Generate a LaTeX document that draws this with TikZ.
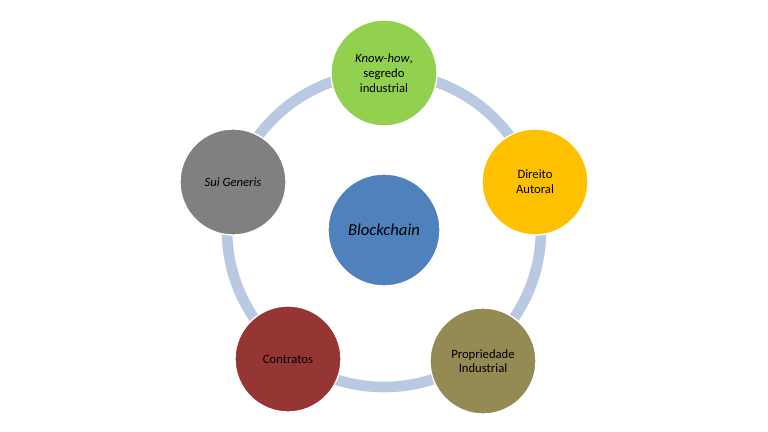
\documentclass[tikz,border=0pt]{standalone}
\usepackage{fontspec}
\setmainfont{Carlito}
\begin{document}
\begin{tikzpicture}[x=0.75pt,y=-0.75pt,
  bub/.style={circle,minimum size=106*0.75pt,inner sep=0pt,draw=white,line width=1pt,align=center,font=\fontsize{9.5}{11}\selectfont,text=black},
  ring/.style={draw={rgb,255:red,185;green,201;blue,226},line width=8pt}]
\useasboundingbox (0,0) rectangle (768,432);
\coordinate (c) at (384,230);
\draw[ring] (c) circle[radius=157*0.75pt];
\node[bub,fill={rgb,255:red,79;green,129;blue,189},minimum size=112*0.75pt,font=\fontsize{12.5}{14}\selectfont\itshape] (b) at (c) {Blockchain};
\node[bub,fill={rgb,255:red,146;green,208;blue,80}] (k) at (384,73) {\textit{Know-how},\\segredo\\industrial};
\node[bub,fill={rgb,255:red,255;green,192;blue,0}] (d) at (535,182) {Direito\\Autoral};
\node[bub,fill={rgb,255:red,148;green,138;blue,84}] (p) at (483,361) {Propriedade\\Industrial};
\node[bub,fill={rgb,255:red,150;green,54;blue,52}] (ct) at (288,359) {Contratos};
\node[bub,fill={rgb,255:red,128;green,128;blue,128}] (s) at (233,182) {\textit{Sui Generis}};
\end{tikzpicture}
\end{document}
